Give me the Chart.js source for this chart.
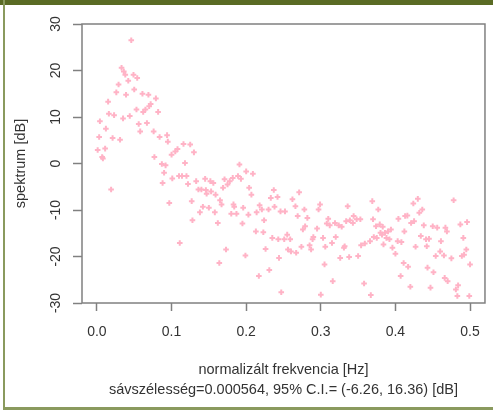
<!DOCTYPE html>
<html>
<head>
<meta charset="utf-8">
<script src="https://cdn.jsdelivr.net/npm/chart.js@4.4.1/dist/chart.umd.min.js"></script>
<style>
  html, body { margin: 0; padding: 0; background: #fff; }
  #wrap { position: relative; width: 493px; height: 410px; overflow: hidden; }
  #spec { position: absolute; left: 0; top: 0; }
  .edge { position: absolute; pointer-events: none; }
  #topBand { left: 0; top: 0; width: 493px; height: 5px; background: #5a6b24; }
  #leftEdge { left: 3px; top: 0; width: 2px; height: 410px; background: #8a9a5e; }
  #bottomEdge { left: 3px; top: 407px; width: 490px; height: 3px; background: #8a9a5e; }
</style>
</head>
<body>
<div id="wrap">
  <canvas id="spec" width="493" height="410"></canvas>
  <div class="edge" id="topBand"></div>
  <div class="edge" id="leftEdge"></div>
  <div class="edge" id="bottomEdge"></div>
</div>
<script>
// periodogram points (frequency [Hz], spectrum [dB])
const freqs = [
  0.001, 0.003, 0.004, 0.007, 0.008, 0.011, 0.012, 0.015, 0.016, 0.019,
  0.021, 0.023, 0.026, 0.029, 0.031, 0.033, 0.035, 0.036, 0.038, 0.039,
  0.042, 0.044, 0.046, 0.049, 0.050, 0.053, 0.054, 0.056, 0.058, 0.061,
  0.062, 0.065, 0.067, 0.069, 0.070, 0.072, 0.076, 0.077, 0.079, 0.082,
  0.084, 0.087, 0.088, 0.090, 0.092, 0.094, 0.095, 0.097, 0.100, 0.101,
  0.105, 0.108, 0.110, 0.111, 0.114, 0.116, 0.118, 0.120, 0.122, 0.125,
  0.127, 0.128, 0.130, 0.133, 0.136, 0.138, 0.140, 0.142, 0.145, 0.146,
  0.147, 0.150, 0.152, 0.153, 0.156, 0.158, 0.159, 0.162, 0.164, 0.165,
  0.167, 0.169, 0.171, 0.173, 0.175, 0.178, 0.180, 0.182, 0.183, 0.184,
  0.187, 0.189, 0.191, 0.193, 0.195, 0.196, 0.199, 0.200, 0.203, 0.204,
  0.207, 0.209, 0.213, 0.214, 0.217, 0.218, 0.221, 0.223, 0.224, 0.226,
  0.230, 0.231, 0.233, 0.235, 0.237, 0.238, 0.242, 0.243, 0.244, 0.246,
  0.247, 0.251, 0.252, 0.255, 0.256, 0.259, 0.260, 0.262, 0.266, 0.267,
  0.269, 0.271, 0.274, 0.276, 0.278, 0.279, 0.282, 0.285, 0.287, 0.289,
  0.290, 0.295, 0.297, 0.299, 0.300, 0.303, 0.305, 0.306, 0.308, 0.310,
  0.312, 0.315, 0.316, 0.319, 0.320, 0.324, 0.326, 0.328, 0.331, 0.332,
  0.334, 0.336, 0.338, 0.339, 0.343, 0.344, 0.348, 0.350, 0.353, 0.354,
  0.358, 0.359, 0.366, 0.367, 0.369, 0.370, 0.371, 0.374, 0.375, 0.377,
  0.379, 0.380, 0.382, 0.383, 0.384, 0.386, 0.388, 0.390, 0.392, 0.394,
  0.396, 0.400, 0.403, 0.404, 0.407, 0.408, 0.411, 0.412, 0.413, 0.416,
  0.417, 0.420, 0.421, 0.424, 0.425, 0.427, 0.430, 0.432, 0.434, 0.436,
  0.438, 0.441, 0.442, 0.443, 0.445, 0.447, 0.450, 0.451, 0.454, 0.456,
  0.460, 0.461, 0.465, 0.466, 0.467, 0.469, 0.470, 0.475, 0.478, 0.481,
  0.483, 0.484, 0.487, 0.489, 0.491, 0.492, 0.495, 0.496, 0.499, 0.500
];
const spectrum = [
  2.9, 5.7, 9.1, 1.4, 1.1, 3.2, 7.5, 13.3, 10.7, -5.6,
  5.5, 10.4, 15.3, 17.0, 5.1, 20.6, 9.7, 19.8, 19.1, 14.8,
  17.8, 10.2, 26.5, 19.1, 15.9, 11.6, 18.4, 8.5, 6.9, 15.0,
  11.1, 11.6, 8.7, 14.8, 12.3, 12.8, 6.9, 1.4, 14.0, 11.1,
  5.7, -0.1, -4.2, -2.0, -0.4, 6.1, 4.7, -8.5, 1.9, -3.2,
  2.6, 3.1, -2.7, -17.1, -2.7, 4.2, 0.1, -2.7, -4.4, 4.1,
  -8.1, -12.2, 2.4, -3.8, -5.6, -10.5, -5.6, -9.3, -3.3, -5.7,
  -6.5, -9.5, -3.8, -6.0, -4.2, -10.5, -6.7, -12.8, -21.4, -7.9,
  -8.8, -5.2, -3.4, -18.5, -4.5, -3.8, -10.8, -3.1, -8.8, -9.3,
  -10.8, -2.7, -0.2, -3.3, -12.9, -9.5, -19.8, -1.7, -11.0, -5.2,
  -6.7, -2.2, -14.6, -10.5, -24.2, -9.0, -9.9, -14.8, -12.2, -18.4,
  -9.9, -22.9, -7.4, -16.0, -5.7, -9.3, -7.2, -16.3, -20.3, -10.3,
  -27.7, -16.3, -10.3, -15.3, -18.5, -16.3, -18.9, -7.7, -9.2, -19.2,
  -11.3, -6.2, -17.9, -14.2, -9.9, -13.5, -11.7, -17.6, -18.5, -16.3,
  -15.8, -14.0, -9.9, -8.8, -28.2, -16.0, -21.7, -17.9, -12.9, -11.9,
  -13.3, -17.1, -25.3, -12.8, -15.8, -13.3, -20.3, -13.6, -18.1, -17.8,
  -12.4, -9.2, -20.1, -12.2, -12.8, -11.3, -12.0, -19.9, -12.0, -17.6,
  -25.8, -17.2, -16.7, -28.3, -8.1, -12.0, -15.8, -13.5, -16.0, -9.9,
  -13.1, -14.9, -15.3, -13.6, -17.4, -14.9, -16.0, -14.6, -16.3, -14.2,
  -18.1, -19.4, -16.7, -11.9, -24.2, -16.9, -21.4, -14.6, -11.3, -11.2,
  -22.2, -26.5, -12.8, -8.6, -12.4, -17.9, -7.6, -10.6, -15.6, -9.9,
  -13.3, -16.3, -17.8, -22.4, -16.2, -26.7, -13.5, -23.4, -19.9, -13.8,
  -18.9, -16.7, -19.8, -24.6, -13.8, -14.6, -25.3, -20.4, -7.9, -27.1,
  -28.5, -26.2, -13.1, -19.9, -16.0, -19.6, -18.5, -12.6, -28.5, -21.7
];
const xTicks = [0, 0.1, 0.2, 0.3, 0.4, 0.5];
const xTickLabels = ['0.0', '0.1', '0.2', '0.3', '0.4', '0.5'];
const yTicks = [-30, -20, -10, 0, 10, 20, 30];

const xTitle = 'normalizált frekvencia [Hz]';
const subTitle = 'sávszélesség=0.000564, 95% C.I.= (-6.26, 16.36) [dB]';
const yTitle = 'spektrum [dB]';

const textColor = '#333';
const axisColor = '#808080';
const fontFamily = '"Liberation Sans", Arial, sans-serif';

// R style box around the plot region and rotated y tick labels
const rBox = {
  id: 'rBox',
  afterDraw(chart) {
    const { ctx, chartArea: a, scales } = chart;
    ctx.save();
    ctx.strokeStyle = axisColor;
    ctx.lineWidth = 1.5;
    ctx.strokeRect(a.left, a.top, a.right - a.left, a.bottom - a.top);

    ctx.fillStyle = textColor;
    ctx.font = '14px ' + fontFamily;
    ctx.textAlign = 'center';
    ctx.textBaseline = 'middle';
    yTicks.forEach(v => {
      const y = scales.y.getPixelForValue(v);
      ctx.save();
      ctx.translate(56, y);
      ctx.rotate(-Math.PI / 2);
      ctx.fillText(String(v), 0, 0);
      ctx.restore();
    });
    ctx.restore();
  }
};

new Chart(document.getElementById('spec'), {
  type: 'scatter',
  data: {
    datasets: [{
      data: freqs.map((f, i) => ({ x: f, y: spectrum[i] })),
      pointStyle: 'cross',
      pointRadius: 2.8,
      borderWidth: 2,
      borderColor: '#ffb3c6',
      backgroundColor: '#ffb3c6'
    }]
  },
  options: {
    responsive: false,
    animation: false,
    layout: { padding: { left: 0, top: 24, right: 5, bottom: 0 } },
    plugins: {
      legend: { display: false },
      tooltip: { enabled: false }
    },
    scales: {
      x: {
        type: 'linear',
        min: -0.02,
        max: 0.52,
        afterBuildTicks: s => { s.ticks = xTicks.map(v => ({ value: v })); },
        afterFit: s => { s.height = 107; },
        border: { display: false },
        grid: {
          drawOnChartArea: false,
          drawTicks: true,
          tickLength: 8,
          tickWidth: 1.5,
          color: axisColor
        },
        ticks: {
          padding: 13,
          maxRotation: 0,
          color: textColor,
          font: { family: fontFamily, size: 14 },
          callback: (v, i) => xTickLabels[i]
        },
        title: {
          display: true,
          text: [xTitle, subTitle],
          color: textColor,
          font: { family: fontFamily, size: 14.5, lineHeight: 20 / 14.5 },
          padding: { top: 0, bottom: 10 }
        }
      },
      y: {
        type: 'linear',
        min: -30,
        max: 30,
        afterBuildTicks: s => { s.ticks = yTicks.map(v => ({ value: v })); },
        afterFit: s => { s.width = 82; },
        border: { display: false },
        grid: {
          drawOnChartArea: false,
          drawTicks: true,
          tickLength: 9,
          tickWidth: 1.5,
          color: axisColor
        },
        ticks: { display: false },
        title: {
          display: true,
          text: yTitle,
          color: textColor,
          font: { family: fontFamily, size: 14.5, lineHeight: 1.2 },
          padding: { top: 12, bottom: 0 }
        }
      }
    }
  },
  plugins: [rBox]
});
</script>
</body>
</html>
